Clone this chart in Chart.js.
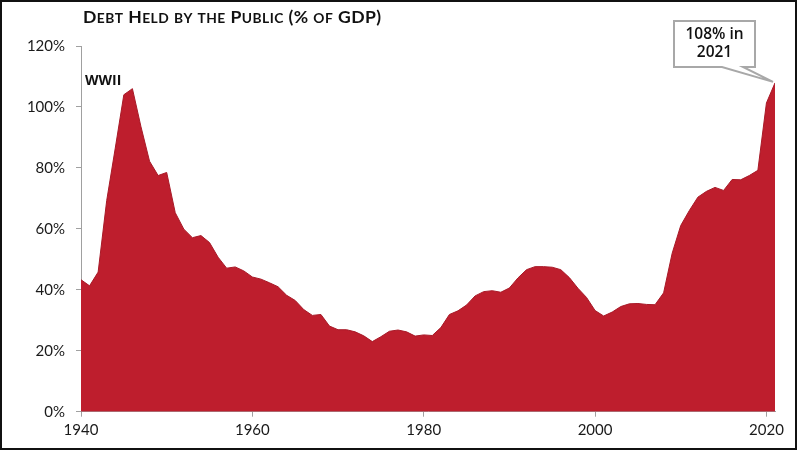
<!DOCTYPE html>
<html><head><meta charset="utf-8">
<script src="https://cdn.jsdelivr.net/npm/chart.js@4/dist/chart.umd.min.js"></script>
<style>
html,body{margin:0;padding:0;background:#fff;}
#wrap{position:absolute;left:0;top:0;width:800px;height:451px;}
#frame{position:absolute;left:0;top:0;width:793px;height:446px;border:2px solid #111;pointer-events:none;}
canvas{position:absolute;left:0;top:0;}
</style></head><body>
<div id="wrap"><canvas id="c" width="800" height="451"></canvas><div id="frame"></div></div>
<script>
const chartTitle = 'Debt Held by the Public (% of GDP)';
const years = [1940,1941,1942,1943,1944,1945,1946,1947,1948,1949,
  1950,1951,1952,1953,1954,1955,1956,1957,1958,1959,
  1960,1961,1962,1963,1964,1965,1966,1967,1968,1969,
  1970,1971,1972,1973,1974,1975,1976,1977,1978,1979,
  1980,1981,1982,1983,1984,1985,1986,1987,1988,1989,
  1990,1991,1992,1993,1994,1995,1996,1997,1998,1999,
  2000,2001,2002,2003,2004,2005,2006,2007,2008,2009,
  2010,2011,2012,2013,2014,2015,2016,2017,2018,2019,
  2020,2021];
const debtPct = [43.3,41.3,45.8,69.3,86.5,104.0,106.0,93.5,82.2,77.5,
  78.5,65.3,59.9,57.1,57.8,55.5,50.7,47.1,47.5,46.2,
  44.2,43.5,42.3,41.0,38.2,36.5,33.5,31.6,31.9,28.1,
  26.9,26.9,26.2,24.9,23.0,24.6,26.4,26.8,26.2,24.8,
  25.2,25.0,27.6,31.9,33.1,35.0,38.0,39.4,39.7,39.2,
  40.6,43.9,46.6,47.6,47.6,47.4,46.6,44.0,40.5,37.5,
  33.2,31.4,32.7,34.5,35.4,35.5,35.2,35.1,39.0,52.0,
  61.1,66.0,70.4,72.3,73.6,72.6,76.2,76.1,77.5,79.2,
  101.3,107.9];
const xTickLabels = [1940,1960,1980,2000,2020];
const yTickValues = [0,20,40,60,80,100,120];
const peakLabel = 'WWII';
const calloutLines = ['108% in','2021'];

function drawSmallCaps(ctx, text, x, baseline, big, small, family){
  ctx.save();
  ctx.textAlign='left'; ctx.textBaseline='alphabetic'; ctx.fillStyle='#111';
  let cx = x;
  for (const ch of text){
    const lower = ch !== ch.toUpperCase();
    ctx.font = 'bold ' + (lower ? small : big) + 'px ' + family;
    const c = ch.toUpperCase();
    ctx.fillText(c, cx, baseline);
    cx += ctx.measureText(c).width + 0.45;
  }
  ctx.restore();
  return cx - x;
}

const annot = {
  id:'annot',
  afterDraw(chart){
    const ctx = chart.ctx, xs = chart.scales.x, ys = chart.scales.y;
    drawSmallCaps(ctx, chartTitle, 83, 23, 17.6, 13.8, 'Lato');
    ctx.save();
    ctx.font = 'bold 14px "Open Sans"'; ctx.fillStyle='#111';
    ctx.textAlign='left'; ctx.textBaseline='middle';
    ctx.fillText(peakLabel, 85, 81);
    // callout
    const n = years.length-1;
    const tx = xs.getPixelForValue(years[n]) - 2, ty = ys.getPixelForValue(debtPct[n]) - 1;
    const L=674, R=755, T=21, B=67;
    ctx.beginPath();
    ctx.moveTo(L,T); ctx.lineTo(R,T); ctx.lineTo(R,B); ctx.lineTo(743,B);
    ctx.lineTo(tx,ty); ctx.lineTo(722,B); ctx.lineTo(L,B); ctx.closePath();
    ctx.fillStyle='#fff'; ctx.fill();
    ctx.lineWidth=2; ctx.strokeStyle='#a8a8a8'; ctx.stroke();
    ctx.fillStyle='#111'; ctx.textAlign='center';
    ctx.font = '600 15.5px "Open Sans"';
    ctx.fillText(calloutLines[0], (L+R)/2, 35);
    ctx.fillText(calloutLines[1], (L+R)/2, 53);
    ctx.restore();
  }
};

new Chart(document.getElementById('c'), {
  type:'line',
  data:{ datasets:[{
    data: years.map((yr,i)=>({x:yr, y:debtPct[i]})),
    fill:'origin', backgroundColor:'#BE1E2D', borderColor:'#A81A28', borderWidth:1,
    pointRadius:0, tension:0
  }]},
  options:{
    responsive:false, animation:false, devicePixelRatio:1,
    layout:{padding:{top:46, right:25, left:0, bottom:0}},
    plugins:{legend:{display:false}, title:{display:false}, tooltip:{enabled:false}},
    scales:{
      x:{type:'linear', min:years[0], max:years[years.length-1],
        afterBuildTicks:s=>{s.ticks = xTickLabels.map(v=>({value:v}));},
        afterFit:s=>{s.height=39.3;},
        grid:{drawOnChartArea:false, drawTicks:true, tickLength:5, color:'#a0a0a0'},
        border:{color:'#a0a0a0', width:1},
        ticks:{callback:v=>String(v), font:{family:'Lato', size:15}, color:'#1a1a1a', padding:4, maxRotation:0, autoSkip:false}
      },
      y:{min:0, max:120,
        afterBuildTicks:s=>{s.ticks = yTickValues.map(v=>({value:v}));},
        afterFit:s=>{s.width=81;},
        grid:{drawOnChartArea:false, drawTicks:true, tickLength:5, color:'#a0a0a0'},
        border:{color:'#a0a0a0', width:1},
        ticks:{callback:v=>v+'%', font:{family:'Lato', size:15}, color:'#1a1a1a', padding:11}
      }
    }
  },
  plugins:[annot]
});
</script>
</body></html>
